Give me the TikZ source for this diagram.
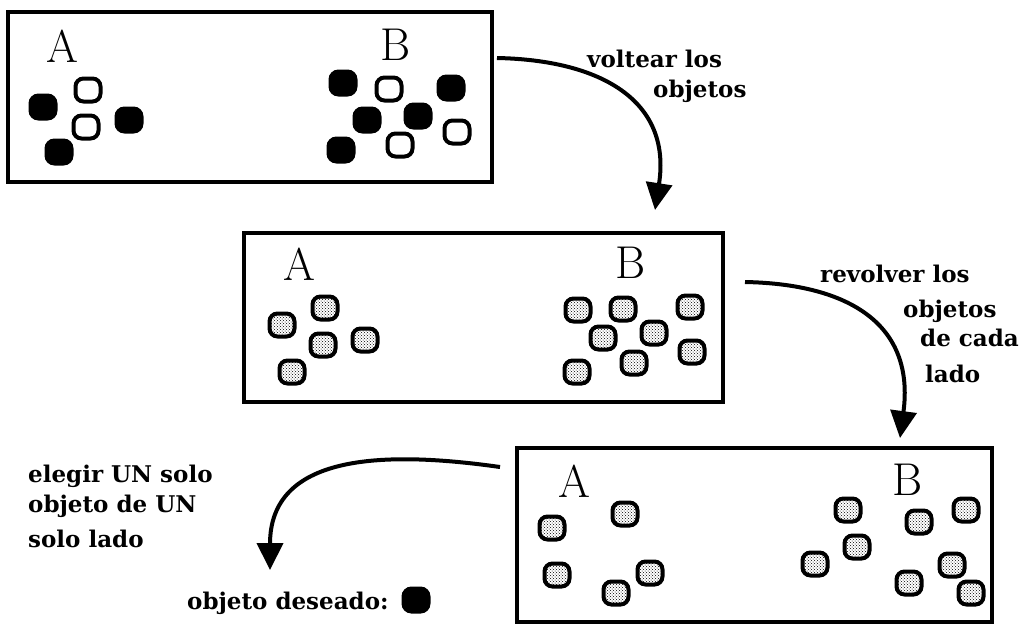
\documentclass[tikz,border=0pt]{standalone}
\usepackage{fontspec}
\newfontfamily\lblfont{DejaVu Serif}
\usetikzlibrary{arrows.meta,patterns}
\tikzset{
  panel/.style={draw=black, line width=4.5pt, minimum width=#1, inner sep=0pt},
  obj/.style={rounded corners=8pt, line width=4pt, minimum width=25pt, minimum height=23pt, inner sep=0pt},
  wobj/.style={obj, draw=black, fill=white},
  bobj/.style={obj, draw=black, fill=black},
  gobj/.style={obj, draw=black, pattern=crosshatch dots},
  side/.style={anchor=base west, inner sep=0pt, font=\fontsize{46}{46}\selectfont},
  lbl/.style={anchor=base west, inner sep=0pt, font=\lblfont\bfseries\fontsize{23}{23}\selectfont},
  flow/.style={line width=4pt, -{Triangle[width=26pt,length=27pt]}}
}
\begin{document}
\begin{tikzpicture}[x=1pt,y=-1pt]
\useasboundingbox (0,0) rectangle (1023,625);
% panels
\node[panel=484pt, minimum height=170pt] (box1) at (250,97) {};
\node[panel=479pt, minimum height=169pt] (box2) at (483.5,317.5) {};
\node[panel=475pt, minimum height=174pt] (box3) at (754.5,535) {};
% side letters
\node[side] (A1) at (46,62) {A};
\node[side] (B1) at (380,60) {B};
\node[side] (A2) at (283,280) {A};
\node[side] (B2) at (615,278) {B};
\node[side] (A3) at (558,497) {A};
\node[side] (B3) at (892,495) {B};
% panel 1, side A
\node[bobj] (p1a1) at (43,107) {};
\node[wobj] (p1a2) at (88,90) {};
\node[wobj] (p1a3) at (86,127) {};
\node[bobj] (p1a4) at (129,120) {};
\node[bobj] (p1a5) at (59,152) {};
% panel 1, side B
\node[bobj] (p1b1) at (343,83) {};
\node[wobj] (p1b2) at (389,89) {};
\node[bobj] (p1b3) at (451,88) {};
\node[bobj] (p1b4) at (367,120) {};
\node[bobj] (p1b5) at (418,116) {};
\node[wobj] (p1b6) at (457,132) {};
\node[bobj] (p1b7) at (341,150) {};
\node[wobj] (p1b8) at (400,145) {};
% panel 2, side A
\node[gobj] (p2a1) at (282,325) {};
\node[gobj] (p2a2) at (325,308) {};
\node[gobj] (p2a3) at (323,345) {};
\node[gobj] (p2a4) at (365,340) {};
\node[gobj] (p2a5) at (292,372) {};
% panel 2, side B
\node[gobj] (p2b1) at (578,310) {};
\node[gobj] (p2b2) at (623,309) {};
\node[gobj] (p2b3) at (690,307) {};
\node[gobj] (p2b4) at (603,338) {};
\node[gobj] (p2b5) at (654,333) {};
\node[gobj] (p2b6) at (692,352) {};
\node[gobj] (p2b7) at (577,372) {};
\node[gobj] (p2b8) at (634,363) {};
% panel 3, side A
\node[gobj] (p3a1) at (552,528) {};
\node[gobj] (p3a2) at (625,514) {};
\node[gobj] (p3a3) at (557,575) {};
\node[gobj] (p3a4) at (650,573) {};
\node[gobj] (p3a5) at (616,593) {};
% panel 3, side B
\node[gobj] (p3b1) at (848,510) {};
\node[gobj] (p3b2) at (919,522) {};
\node[gobj] (p3b3) at (966,510) {};
\node[gobj] (p3b4) at (857,547) {};
\node[gobj] (p3b5) at (815,564) {};
\node[gobj] (p3b6) at (952,565) {};
\node[gobj] (p3b7) at (909,583) {};
\node[gobj] (p3b8) at (971,593) {};
% arrow end points
\coordinate (s1) at (497,58);
\coordinate (e1) at (655,210);
\coordinate (s2) at (745,282);
\coordinate (e2) at (900,438);
\coordinate (s3) at (500,467);
\coordinate (e3) at (270,570);
\draw[flow] (s1) .. controls (600,60) and (672,100) .. (e1);
\draw[flow] (s2) .. controls (850,284) and (915,325) .. (e2);
\draw[flow] (s3) .. controls (380,450) and (270,455) .. (e3);
% labels
\node[lbl] (l1a) at (587,67) {voltear los};
\node[lbl] (l1b) at (653,97) {objetos};
\node[lbl] (l2a) at (820,282) {revolver los};
\node[lbl] (l2b) at (903,317) {objetos};
\node[lbl] (l2c) at (920,346) {de cada};
\node[lbl] (l2d) at (925,382) {lado};
\node[lbl] (l3a) at (28,482) {elegir UN solo};
\node[lbl] (l3b) at (28,512) {objeto de UN};
\node[lbl] (l3c) at (28,547) {solo lado};
\node[lbl] (res) at (187,609) {objeto deseado:};
\node[bobj] (want) at (416,600) {};
\end{tikzpicture}
\end{document}
